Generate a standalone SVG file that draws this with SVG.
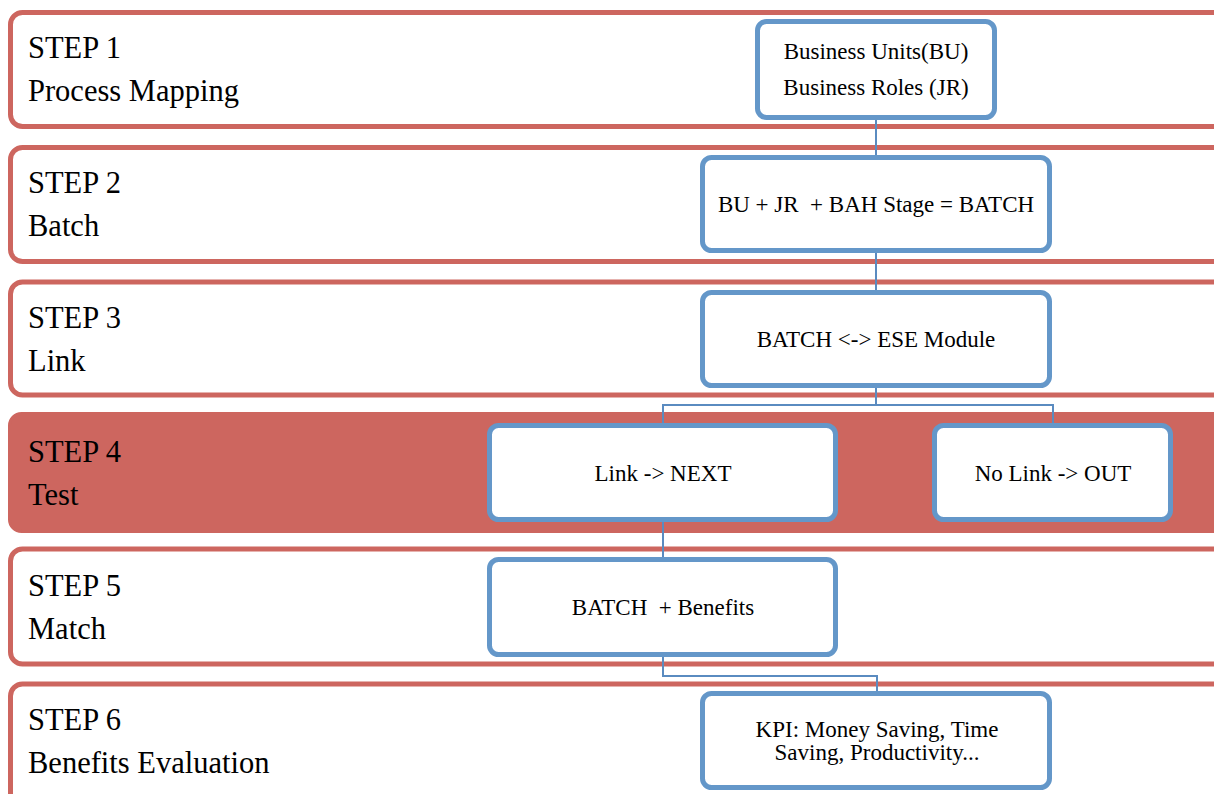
<svg xmlns="http://www.w3.org/2000/svg" width="1214" height="794" viewBox="0 0 1214 794">
<style>
.row{fill:#fff;stroke:#CD665F;stroke-width:5}
.rowf{fill:#CD665F;stroke:#CD665F;stroke-width:3}
.box{fill:#fff;stroke:#6497C9;stroke-width:5}
.step{font-family:"Liberation Serif",serif;font-size:30.5px;fill:#000}
.bt{font-family:"Liberation Serif",serif;font-size:23px;fill:#000;text-anchor:middle;white-space:pre}
.conn{fill:none;stroke:#5A8BC0;stroke-width:2}
</style>
<rect width="1214" height="794" fill="#fff"/>
<g id="step1"><rect class="row" x="10.5" y="12.5" width="1215" height="114" rx="12"/><text class="step" x="28" y="58">STEP 1</text><text class="step" x="28" y="101">Process Mapping</text></g>
<g id="step2"><rect class="row" x="10.5" y="147.5" width="1215" height="114" rx="12"/><text class="step" x="28" y="193">STEP 2</text><text class="step" x="28" y="236">Batch</text></g>
<g id="step3"><rect class="row" x="10.5" y="282" width="1215" height="113" rx="12"/><text class="step" x="28" y="328">STEP 3</text><text class="step" x="28" y="371">Link</text></g>
<g id="step4"><rect class="rowf" x="9.5" y="413.5" width="1215" height="118" rx="12"/><text class="step" x="28" y="462">STEP 4</text><text class="step" x="28" y="505">Test</text></g>
<g id="step5"><rect class="row" x="10.5" y="549" width="1215" height="115" rx="12"/><text class="step" x="28" y="596">STEP 5</text><text class="step" x="28" y="639">Match</text></g>
<g id="step6"><rect class="row" x="10.5" y="684" width="1215" height="130" rx="12"/><text class="step" x="28" y="730">STEP 6</text><text class="step" x="28" y="773">Benefits Evaluation</text></g>
<g id="connectors">
<path class="conn" d="M876 118V157"/>
<path class="conn" d="M876 251V292"/>
<path class="conn" d="M876 386V405H663V425M876 405H1053V425"/>
<path class="conn" d="M663 521V559"/>
<path class="conn" d="M663 655V676H877V693"/>
</g>
<g id="n1"><rect class="box" x="757.5" y="21.5" width="237" height="96" rx="9"/><text class="bt" x="876" y="59">Business Units(BU)</text><text class="bt" x="876" y="95">Business Roles (JR)</text></g>
<g id="n2"><rect class="box" x="702.5" y="157.5" width="347" height="93" rx="9"/><text class="bt" x="876" y="212">BU + JR  + BAH Stage = BATCH</text></g>
<g id="n3"><rect class="box" x="702.5" y="292.5" width="347" height="93" rx="9"/><text class="bt" x="876" y="347">BATCH &lt;-&gt; ESE Module</text></g>
<g id="n4a"><rect class="box" x="489.5" y="425.5" width="346" height="94" rx="9"/><text class="bt" x="663" y="481">Link -&gt; NEXT</text></g>
<g id="n4b"><rect class="box" x="934.5" y="425.5" width="236" height="94" rx="9"/><text class="bt" x="1053" y="481">No Link -&gt; OUT</text></g>
<g id="n5"><rect class="box" x="489.5" y="559.5" width="346" height="95" rx="9"/><text class="bt" x="663" y="615">BATCH  + Benefits</text></g>
<g id="n6"><rect class="box" x="702.5" y="693.5" width="347" height="94" rx="9"/><text class="bt" x="877" y="737">KPI: Money Saving, Time</text><text class="bt" x="877" y="760">Saving, Productivity...</text></g>
</svg>
